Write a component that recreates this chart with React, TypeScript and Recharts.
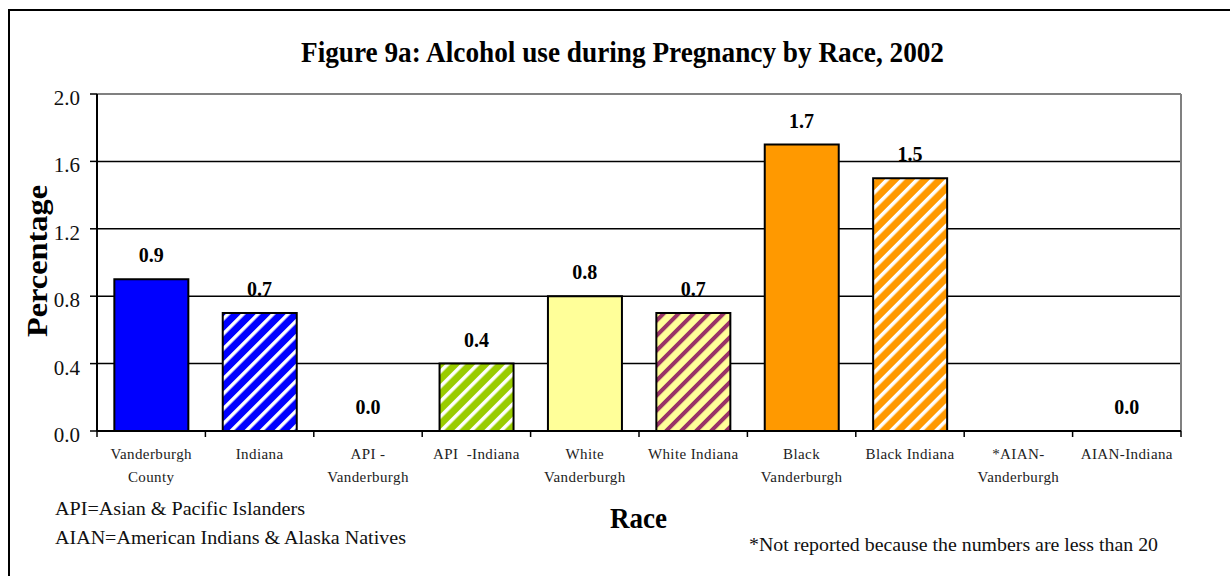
import { ComposedChart, Bar, Line, XAxis, YAxis, CartesianGrid, LabelList, Cell } from 'recharts'

const SERIF = '"Liberation Serif", Tinos, "Times New Roman", Times, serif'

// one entry per bar, left to right
const categories = [
  'Vanderburgh\nCounty',
  'Indiana',
  'API -\nVanderburgh',
  'API  -Indiana',
  'White\nVanderburgh',
  'White Indiana',
  'Black\nVanderburgh',
  'Black Indiana',
  '*AIAN-\nVanderburgh',
  'AIAN-Indiana',
]

// percent of births; AIAN-Vanderburgh not reported
const percentages: (number | null)[] = [0.9, 0.7, 0.0, 0.4, 0.8, 0.7, 1.7, 1.5, null, 0.0]

const yTicks = [0, 0.4, 0.8, 1.2, 1.6, 2.0]

const fills = [
  '#0000ff',
  'url(#stripeBlue)',
  '#ffffff',
  'url(#stripeGreen)',
  '#ffff99',
  'url(#stripePurple)',
  '#ff9900',
  'url(#stripeOrange)',
  '#ffffff',
  '#ffffff',
]

const chartData = categories.map((name, i) => ({ name, value: percentages[i] }))

// category label plus the small tick marks on the band edges
function CategoryTick(props: any) {
  const { x, y, payload, index, width, visibleTicksCount } = props
  const lines = String(payload.value).split('\n')
  const band = Number(width) / Number(visibleTicksCount || categories.length)
  const left = x - band / 2
  const right = x + band / 2
  return (
    <g>
      <line x1={left} x2={left} y1={y} y2={y + 6} stroke="#000" strokeWidth={1.5} />
      {index === categories.length - 1 && (
        <line x1={right} x2={right} y1={y} y2={y + 6} stroke="#000" strokeWidth={1.5} />
      )}
      <text
        x={x}
        y={y}
        textAnchor="middle"
        fontSize={15}
        letterSpacing={0.4}
        fill="#222"
        style={{ whiteSpace: 'pre', fontFamily: SERIF }}
      >
        {lines.map((line, i) => (
          <tspan key={i} x={x} y={y + 28 + i * 23}>
            {line}
          </tspan>
        ))}
      </text>
    </g>
  )
}

function PercentTick(props: any) {
  const { x, y, payload } = props
  return (
    <text x={x} y={y + 11} textAnchor="end" fontSize={21} fill="#111" style={{ fontFamily: SERIF }}>
      {Number(payload.value).toFixed(1)}
    </text>
  )
}

// value printed above each bar top (zero bars included)
function ValueLabel(props: any) {
  const { x, y, value } = props
  if (value == null) return null
  return (
    <text
      x={Number(x)}
      y={Number(y) - 17}
      textAnchor="middle"
      fontWeight="bold"
      fontSize={20}
      fill="#000"
      style={{ fontFamily: SERIF }}
    >
      {Number(value).toFixed(1)}
    </text>
  )
}

function Stripe({ id, base, line, w }: { id: string; base: string; line: string; w: number }) {
  return (
    <pattern id={id} patternUnits="userSpaceOnUse" width={10.6} height={10.6} patternTransform="rotate(45)">
      <rect x={0} y={0} width={10.6} height={10.6} fill={base} />
      <rect x={0} y={0} width={w} height={10.6} fill={line} />
    </pattern>
  )
}

const noteStyle = { fontFamily: SERIF }

export default function App() {
  return (
    <div style={{ position: 'absolute', left: 0, top: 0, width: 1230, height: 576, background: '#fff' }}>
      <ComposedChart
        width={1230}
        height={576}
        data={chartData}
        margin={{ top: 94, right: 49, bottom: 85, left: 0 }}
        barCategoryGap="16%"
      >
        <CartesianGrid vertical={false} stroke="#000" strokeWidth={1.5} />
        {/* grey plot border on the top and right */}
        <CartesianGrid
          stroke="#808080"
          strokeWidth={2}
          horizontalCoordinatesGenerator={({ offset }: any) => [offset.top]}
          verticalCoordinatesGenerator={({ offset }: any) => [offset.left + offset.width]}
        />
        <XAxis
          dataKey="name"
          interval={0}
          tickLine={false}
          tickSize={0}
          tickMargin={0}
          axisLine={{ stroke: '#000', strokeWidth: 2 }}
          tick={<CategoryTick />}
          height={60}
        />
        <YAxis
          domain={[0, 2]}
          ticks={yTicks}
          width={97}
          tickSize={7}
          tickMargin={10}
          axisLine={{ stroke: '#000', strokeWidth: 2 }}
          tickLine={{ stroke: '#000', strokeWidth: 1.5 }}
          tick={<PercentTick />}
        />
        <Bar dataKey="value" stroke="#000" strokeWidth={2} isAnimationActive={false}>
          {chartData.map((d, i) => (
            <Cell key={d.name} fill={fills[i]} />
          ))}
        </Bar>
        <Line
          dataKey="value"
          stroke="none"
          dot={false}
          activeDot={false}
          isAnimationActive={false}
        >
          <LabelList dataKey="value" content={<ValueLabel />} />
        </Line>
      </ComposedChart>

      <svg
        width={1230}
        height={576}
        style={{ position: 'absolute', left: 0, top: 0, pointerEvents: 'none' }}
      >
        <defs>
          <Stripe id="stripeBlue" base="#0000ff" line="#ffffff" w={3.5} />
          <Stripe id="stripeGreen" base="#99cc00" line="#ffffff" w={3.5} />
          <Stripe id="stripePurple" base="#ffff99" line="#993366" w={4} />
          <Stripe id="stripeOrange" base="#ff9900" line="#ffffff" w={3.5} />
        </defs>
        <rect x={9} y={10} width={1300} height={700} fill="none" stroke="#000" strokeWidth={2} />
        <text
          x={301}
          y={62}
          fontWeight="bold"
          fontSize={29}
          textLength={643}
          lengthAdjust="spacingAndGlyphs"
          style={noteStyle}
        >
          Figure 9a: Alcohol use during Pregnancy by Race, 2002
        </text>
        <text
          x={47}
          y={261}
          transform="rotate(-90 47 261)"
          textAnchor="middle"
          fontWeight="bold"
          fontSize={29}
          textLength={152}
          lengthAdjust="spacingAndGlyphs"
          style={noteStyle}
        >
          Percentage
        </text>
        <text
          x={610}
          y={528}
          fontWeight="bold"
          fontSize={29}
          textLength={57}
          lengthAdjust="spacingAndGlyphs"
          style={noteStyle}
        >
          Race
        </text>
        <text x={55} y={515} fontSize={19} fill="#111" textLength={250} lengthAdjust="spacingAndGlyphs" style={noteStyle}>
          API=Asian &amp; Pacific Islanders
        </text>
        <text x={55} y={544} fontSize={19} fill="#111" textLength={351} lengthAdjust="spacingAndGlyphs" style={noteStyle}>
          AIAN=American Indians &amp; Alaska Natives
        </text>
        <text x={749} y={551} fontSize={19} fill="#111" textLength={409} lengthAdjust="spacingAndGlyphs" style={noteStyle}>
          *Not reported because the numbers are less than 20
        </text>
      </svg>
    </div>
  )
}
